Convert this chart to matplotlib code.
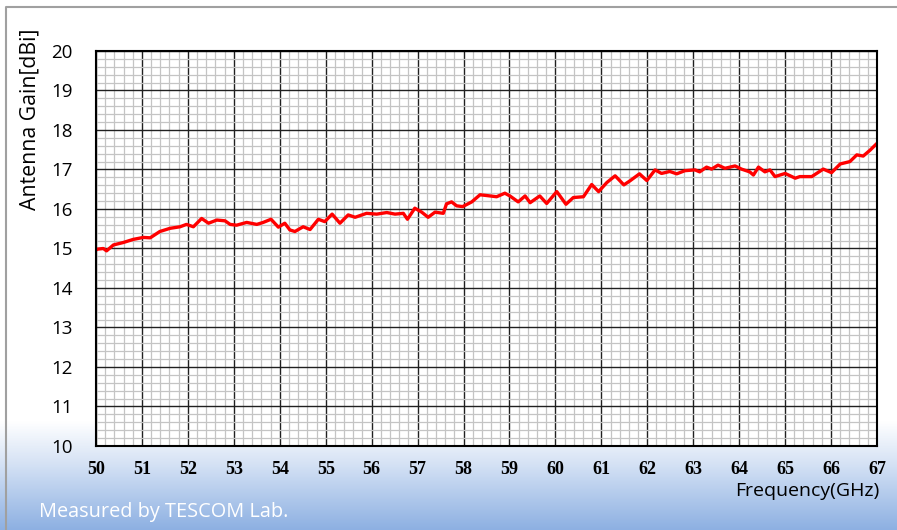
import numpy as np
import matplotlib.pyplot as plt
from matplotlib.colors import LinearSegmentedColormap
from matplotlib.ticker import MultipleLocator

# measured gain curve
freq_ghz = [50.00, 50.01, 50.16, 50.23, 50.38, 50.59, 50.81, 51.03, 51.18, 51.39,
            51.61, 51.83, 51.97, 52.12, 52.30, 52.45, 52.63, 52.81, 52.92, 53.06,
            53.28, 53.50, 53.64, 53.81, 53.97, 54.11, 54.22, 54.33, 54.51, 54.66,
            54.84, 54.98, 55.14, 55.31, 55.49, 55.64, 55.89, 56.11, 56.33, 56.51,
            56.69, 56.78, 56.94, 57.09, 57.23, 57.38, 57.56, 57.63, 57.74, 57.85,
            57.98, 58.18, 58.36, 58.58, 58.72, 58.90, 59.01, 59.19, 59.34, 59.45,
            59.66, 59.81, 60.03, 60.23, 60.39, 60.61, 60.79, 60.94, 61.12, 61.30,
            61.49, 61.62, 61.83, 61.99, 62.17, 62.31, 62.49, 62.64, 62.82, 63.04,
            63.14, 63.29, 63.40, 63.54, 63.69, 63.91, 64.05, 64.23, 64.31, 64.42,
            64.56, 64.67, 64.78, 64.89, 65.00, 65.22, 65.32, 65.58, 65.83, 66.01,
            66.20, 66.41, 66.56, 66.70, 66.85, 66.99, 67.00]
gain_dbi = [14.96, 14.98, 15.00, 14.94, 15.09, 15.15, 15.23, 15.28, 15.27, 15.43,
            15.51, 15.55, 15.61, 15.55, 15.76, 15.64, 15.72, 15.70, 15.61, 15.59,
            15.66, 15.61, 15.66, 15.74, 15.54, 15.64, 15.47, 15.43, 15.55, 15.48,
            15.74, 15.68, 15.87, 15.64, 15.85, 15.79, 15.89, 15.87, 15.91, 15.87,
            15.89, 15.74, 16.02, 15.92, 15.79, 15.92, 15.89, 16.13, 16.18, 16.08,
            16.06, 16.18, 16.36, 16.33, 16.31, 16.40, 16.33, 16.18, 16.33, 16.16,
            16.33, 16.14, 16.44, 16.12, 16.29, 16.31, 16.62, 16.44, 16.67, 16.84,
            16.61, 16.71, 16.89, 16.72, 16.99, 16.90, 16.95, 16.89, 16.97, 16.99,
            16.94, 17.06, 17.01, 17.11, 17.03, 17.09, 17.01, 16.94, 16.86, 17.06,
            16.94, 16.99, 16.82, 16.86, 16.90, 16.78, 16.82, 16.82, 17.01, 16.92,
            17.14, 17.20, 17.37, 17.34, 17.49, 17.65, 17.66]

x_ticks = list(range(50, 68))
y_ticks = list(range(10, 21))

fig = plt.figure(figsize=(8.97, 5.30), dpi=100)

# background: white fading into light blue at the bottom
bg = fig.add_axes([0, 0, 1, 1], zorder=-10)
cmap = LinearSegmentedColormap.from_list(
    'bg', [(0.0, '#8db0e2'), (0.35, '#d2e0f4'), (0.6, '#ffffff'), (1.0, '#ffffff')])
grad = np.linspace(0, 1, 256).reshape(-1, 1)
bg.imshow(grad, cmap=cmap, aspect='auto', origin='lower', extent=[0, 1, 0, 0.34])
bg.set_xlim(0, 1)
bg.set_ylim(0, 1)
bg.fill_between([0, 1], 0.34, 1, color='white')
bg.plot([0.007, 0.007, 1.0], [0.0, 0.987, 0.987], color='#a0a0a0', lw=1.5)
bg.axis('off')

ax = fig.add_axes([0.107, 0.1585, 0.8707, 0.7453])
ax.plot(freq_ghz, gain_dbi, color='#ff0000', lw=2.4)

ax.set_xlim(50, 67)
ax.set_ylim(10, 20)
ax.set_xticks(x_ticks)
ax.set_yticks(y_ticks)
ax.xaxis.set_minor_locator(MultipleLocator(0.2))
ax.yaxis.set_minor_locator(MultipleLocator(0.2))
ax.grid(which='major', color='#202020', lw=1.0)
ax.grid(which='minor', color='#c4c4c4', lw=0.9)
ax.set_axisbelow(True)
ax.tick_params(which='both', length=0)
ax.tick_params(axis='x', pad=11)
ax.tick_params(axis='y', pad=17)
for s in ax.spines.values():
    s.set_linewidth(1.5)
    s.set_color('black')

for lbl in ax.get_xticklabels():
    lbl.set_fontfamily('Liberation Serif')
    lbl.set_fontweight('bold')
    lbl.set_fontsize(13)
for lbl in ax.get_yticklabels():
    lbl.set_fontfamily('Open Sans')
    lbl.set_fontsize(13.5)

fig.text(0.033, 0.775, 'Antenna Gain[dBi]', rotation=90, ha='center', va='center',
         fontsize=15.3, family='Open Sans')
fig.text(0.98, 0.073, 'Frequency(GHz)', ha='right', va='center',
         fontsize=14, family='Open Sans')
fig.text(0.044, 0.034, 'Measured by TESCOM Lab.', ha='left', va='center',
         fontsize=14.3, family='Open Sans', color='white')

fig.savefig('out.png', dpi=100)
